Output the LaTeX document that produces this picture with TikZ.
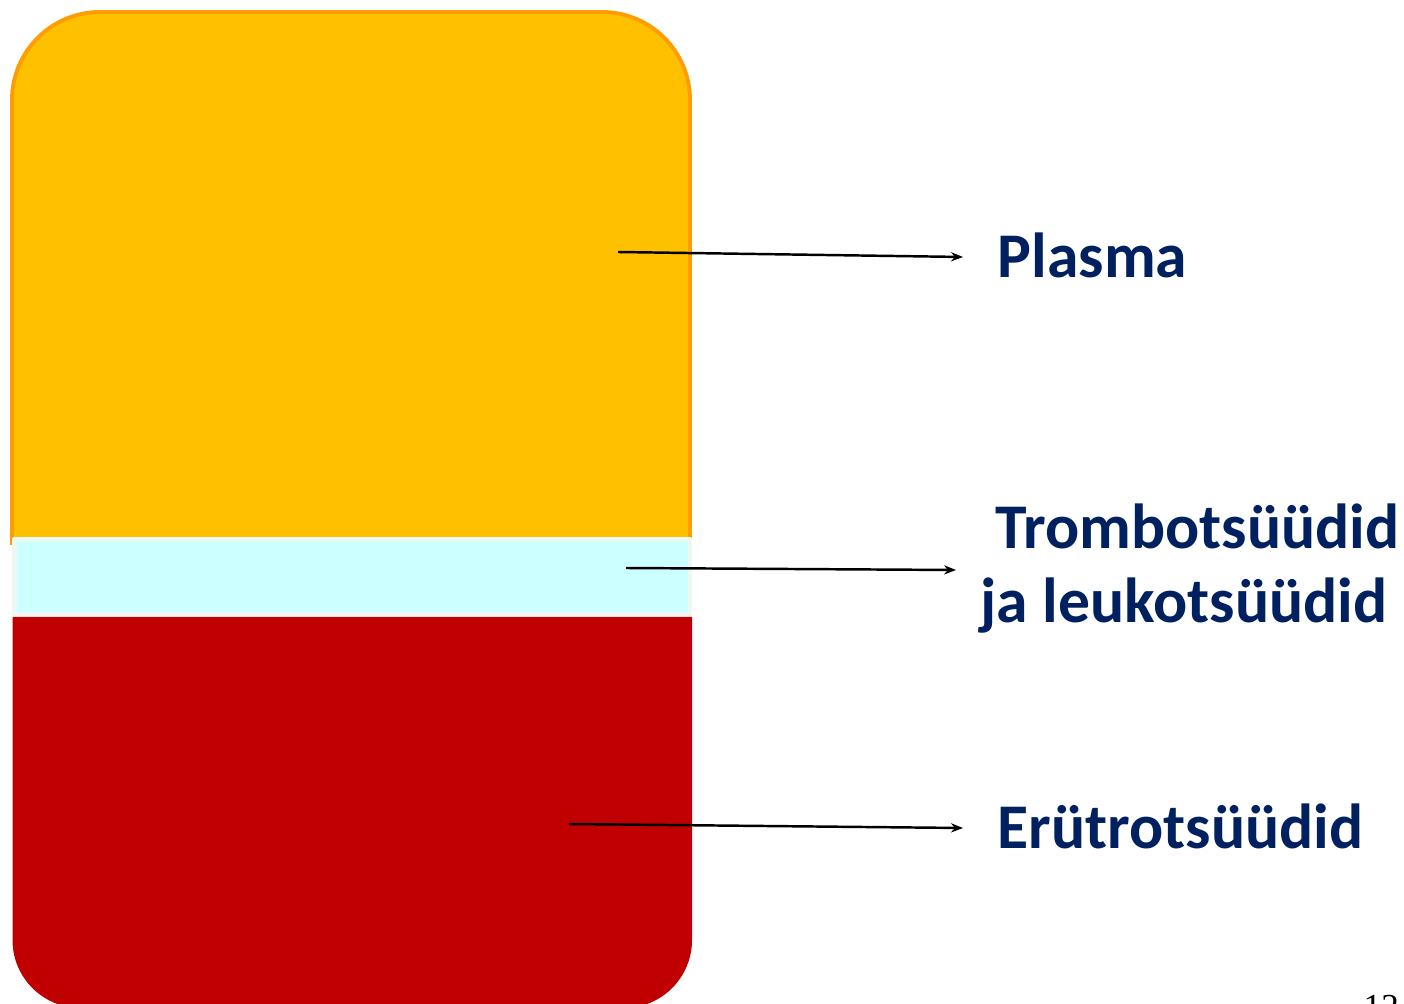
\documentclass[tikz,border=0pt]{standalone}
\usepackage{fontspec}
\setmainfont{Carlito}
\newfontfamily\pagenumfont{Liberation Serif}
\usetikzlibrary{
  arrows.meta,
  positioning,
}
\definecolor{plasmaYellow}{HTML}{FFC000}
\definecolor{plasmaEdge}{HTML}{FF9C00}
\definecolor{bandCyan}{HTML}{CCFFFF}
\definecolor{bandEdge}{HTML}{EEF7F1}
\definecolor{cellRed}{HTML}{C00000}
\definecolor{labelBlue}{HTML}{002060}
\tikzset{
  layer edge/.style = {
    line width=#1,
    line join=round
  },
  pointer/.style = {
    draw=black,
    line width=0.7pt,
    -{Stealth[length=3.4pt, width=2.6pt]}
  },
  label text/.style = {
    anchor=base west,
    inner sep=0pt,
    text=labelBlue,
    font=\fontsize{18.1pt}{21.3pt}\selectfont\bfseries,
    align=left
  },
}

\begin{document}
\begin{tikzpicture}[x=0.01cm, y=-0.01cm]
  \useasboundingbox (0,0) rectangle (1404,1004);
  \clip (0,0) rectangle (1404,1004);
  %% layers of the tube
  \filldraw[fill=plasmaYellow, draw=plasmaEdge, layer edge=1.1pt]
    (12,545) -- (12,100) arc[start angle=180, end angle=270, radius=88]
    -- (602,12) arc[start angle=270, end angle=360, radius=88] -- (690,545);
  \fill[cellRed]
    (12.5,617) -- (692,617) -- (692,940)
    arc[start angle=0, end angle=90, radius=68] -- (80.5,1008)
    arc[start angle=90, end angle=180, radius=68] -- cycle;
  \filldraw[fill=bandCyan, draw=bandEdge, layer edge=1.4pt]
    (14.5,539) rectangle (690,614);
  %% labels (base of a two-line node is its last line)
  \node (plasma) [label text] at (997,278) {Plasma};
  \node (band) [label text] at (980,623) {\ Trombotsüüdid\\ja leukotsüüdid};
  \node (cells) [label text] at (997,848) {Erütrotsüüdid};
  \node (pagenum) [anchor=base west, inner sep=0pt,
    font=\fontsize{10pt}{12pt}\pagenumfont] at (1363,1018) {12};
  %% pointers
  \coordinate (plasma start) at (618,252);
  \coordinate (plasma tip) at (963,257);
  \coordinate (band start) at (626,568);
  \coordinate (band tip) at (956,570);
  \coordinate (cells start) at (569,824);
  \coordinate (cells tip) at (963,828);
  \draw[pointer] (plasma start) -- (plasma tip);
  \draw[pointer] (band start) -- (band tip);
  \draw[pointer] (cells start) -- (cells tip);
\end{tikzpicture}
\end{document}
